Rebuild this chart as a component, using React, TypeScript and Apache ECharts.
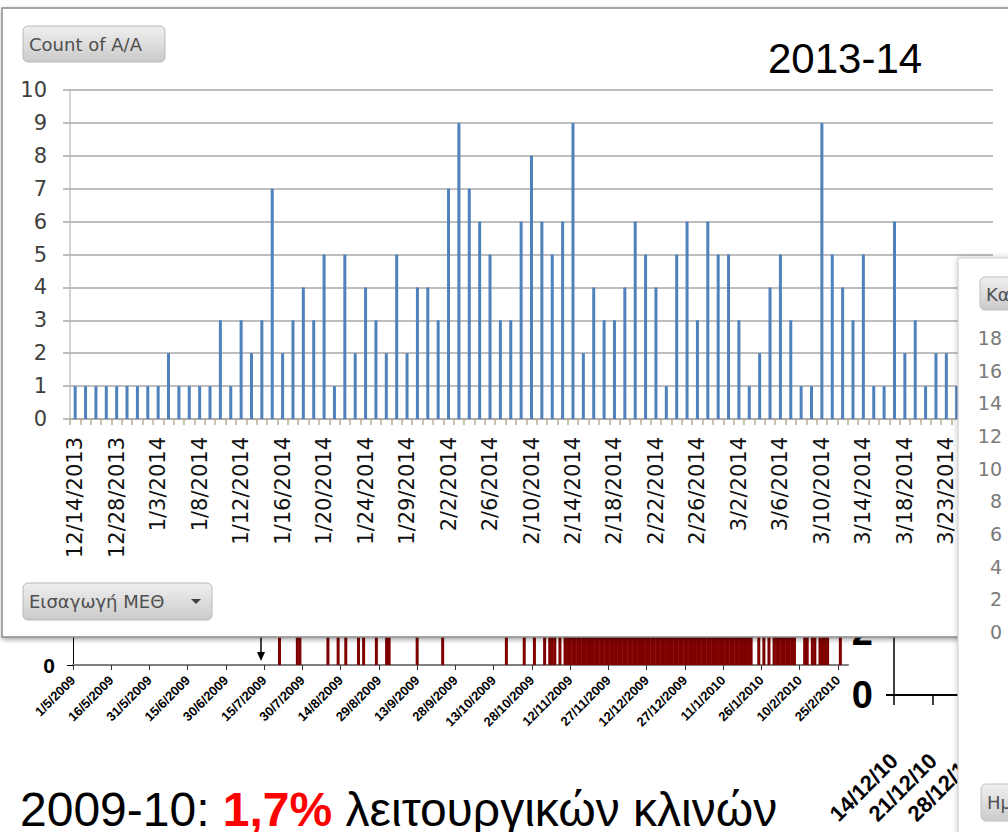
import React, { useEffect, useRef } from "react";
import * as echarts from "echarts";

// ---------- main chart (2013-14) ----------
const mainDates = [
  "12/14/2013", "12/18/2013", "12/21/2013", "12/25/2013", "12/28/2013", "12/30/2013", "12/31/2013", "1/2/2014",
  "1/3/2014", "1/4/2014", "1/5/2014", "1/7/2014", "1/8/2014", "1/9/2014", "1/10/2014", "1/11/2014",
  "1/12/2014", "1/13/2014", "1/14/2014", "1/15/2014", "1/16/2014", "1/17/2014", "1/18/2014", "1/19/2014",
  "1/20/2014", "1/21/2014", "1/22/2014", "1/23/2014", "1/24/2014", "1/25/2014", "1/26/2014", "1/28/2014",
  "1/29/2014", "1/30/2014", "1/31/2014", "2/1/2014", "2/2/2014", "2/3/2014", "2/4/2014", "2/5/2014",
  "2/6/2014", "2/7/2014", "2/8/2014", "2/9/2014", "2/10/2014", "2/11/2014", "2/12/2014", "2/13/2014",
  "2/14/2014", "2/15/2014", "2/16/2014", "2/17/2014", "2/18/2014", "2/19/2014", "2/20/2014", "2/21/2014",
  "2/22/2014", "2/23/2014", "2/24/2014", "2/25/2014", "2/26/2014", "2/27/2014", "2/28/2014", "3/1/2014",
  "3/2/2014", "3/3/2014", "3/4/2014", "3/5/2014", "3/6/2014", "3/7/2014", "3/8/2014", "3/9/2014",
  "3/10/2014", "3/11/2014", "3/12/2014", "3/13/2014", "3/14/2014", "3/15/2014", "3/16/2014", "3/17/2014",
  "3/18/2014", "3/19/2014", "3/20/2014", "3/22/2014", "3/23/2014", "3/24/2014", "3/25/2014", "3/26/2014",
  "3/27/2014",
];
const mainCounts = [
  1, 1, 1, 1, 1, 1, 1, 1, 1, 2,
  1, 1, 1, 1, 3, 1, 3, 2, 3, 7,
  2, 3, 4, 3, 5, 1, 5, 2, 4, 3,
  2, 5, 2, 4, 4, 3, 7, 9, 7, 6,
  5, 3, 3, 6, 8, 6, 5, 6, 9, 2,
  4, 3, 3, 4, 6, 5, 4, 1, 5, 6,
  3, 6, 5, 5, 3, 1, 2, 4, 5, 3,
  1, 1, 9, 5, 4, 3, 5, 1, 1, 6,
  2, 3, 1, 2, 2, 1, 1, 2, 1,
];

// ---------- background chart (2009-10), daily values per month ----------
const icuMay2009 = [0, 0, 0, 0, 0, 0, 0, 0, 0, 0, 0, 0, 0, 0, 0, 0, 0, 0, 0, 0, 0, 0, 0, 0, 0, 0, 0, 0, 0, 0, 0];
const icuJun2009 = [0, 0, 0, 0, 0, 0, 0, 0, 0, 0, 0, 0, 0, 0, 0, 0, 0, 0, 0, 0, 0, 0, 0, 0, 0, 0, 0, 0, 0, 0];
const icuJul2009 = [0, 0, 0, 0, 0, 0, 0, 0, 0, 0, 0, 0, 0, 0, 0, 0, 0, 0, 0, 0, 1, 0, 0, 0, 0, 0, 0, 1, 1, 0, 0];
const icuAug2009 = [0, 0, 0, 0, 0, 0, 0, 0, 1, 0, 0, 0, 1, 0, 0, 1, 0, 0, 0, 0, 1, 0, 1, 0, 0, 0, 0, 1, 0, 0, 0];
const icuSep2009 = [1, 1, 0, 0, 0, 0, 0, 0, 0, 0, 0, 0, 1, 0, 0, 0, 0, 0, 0, 0, 0, 0, 1, 0, 0, 0, 0, 0, 0, 0];
const icuOct2009 = [0, 0, 0, 0, 0, 0, 0, 0, 0, 0, 0, 0, 0, 0, 0, 0, 0, 1, 0, 0, 0, 0, 0, 0, 1, 0, 0, 0, 1, 0, 0];
const icuNov2009 = [0, 1, 0, 1, 1, 1, 0, 1, 0, 2, 2, 3, 2, 3, 3, 4, 3, 4, 4, 5, 4, 5, 5, 6, 5, 6, 6, 5, 6, 7];
const icuDec2009 = [7, 6, 7, 6, 6, 5, 6, 5, 5, 4, 5, 4, 4, 4, 3, 4, 3, 3, 3, 2, 3, 2, 3, 2, 2, 3, 2, 2, 2, 1, 2];
const icuJan2010 = [2, 1, 2, 2, 1, 2, 1, 1, 2, 1, 1, 2, 1, 1, 1, 2, 1, 1, 1, 1, 1, 1, 0, 0, 1, 0, 1, 0, 1, 0, 1];
const icuFeb2010 = [1, 1, 2, 1, 1, 1, 1, 1, 0, 0, 0, 1, 1, 0, 1, 1, 0, 1, 1, 1, 1, 0, 0, 0, 0, 1, 0, 0];
const icuMar2010 = [0];

const icuMonths: [number, number, number[]][] = [
  [5, 2009, icuMay2009], [6, 2009, icuJun2009], [7, 2009, icuJul2009], [8, 2009, icuAug2009],
  [9, 2009, icuSep2009], [10, 2009, icuOct2009], [11, 2009, icuNov2009], [12, 2009, icuDec2009],
  [1, 2010, icuJan2010], [2, 2010, icuFeb2010], [3, 2010, icuMar2010],
];
const icuDates: string[] = [];
const icuValues: number[] = [];
icuMonths.forEach(([m, y, arr]) => {
  arr.forEach((v, i) => {
    icuDates.push(`${i + 1}/${m}/${y}`);
    icuValues.push(v);
  });
});

// ---------- fragment of another chart ----------
const midDates = ["14/12/10", "21/12/10", "28/12/10"];

const SANS = "'DejaVu Sans', Verdana, sans-serif";
const ARIAL = "'Liberation Sans', Arial, sans-serif";
const NARROW = "'Liberation Sans Narrow', 'Arial Narrow', 'Liberation Sans', sans-serif";

function btnFill() {
  return new echarts.graphic.LinearGradient(0, 0, 0, 1, [
    { offset: 0, color: "#efefef" },
    { offset: 1, color: "#cbcbcb" },
  ]);
}

export default function App() {
  const ref = useRef<HTMLDivElement>(null);
  useEffect(() => {
    if (!ref.current) return;
    const chart = echarts.init(ref.current, null, { renderer: "svg" });
    const option: any = {
      animation: false,
      backgroundColor: "#ffffff",
      grid: [
        { left: 70, right: 15, top: 90, bottom: 413, outerBoundsMode: "none", containLabel: false },
        { left: 73, right: 160, top: 401, bottom: 167, outerBoundsMode: "none", containLabel: false },
        { left: 894, right: 36, top: 380, bottom: 137, outerBoundsMode: "none", containLabel: false },
        { left: 1003, right: 0, top: 338, bottom: 200, outerBoundsMode: "none", containLabel: false },
      ],
      xAxis: [
        {
          gridIndex: 0, type: "category", data: mainDates, boundaryGap: true, z: 11,
          axisLine: { show: true, lineStyle: { color: "#a9a9a9", width: 1.5 } },
          axisTick: { show: true, interval: 0, length: 6, lineStyle: { color: "#b9ab93", width: 1.5 } },
          axisLabel: { interval: 3, rotate: 90, margin: 18, fontSize: 21, fontFamily: SANS, color: "#111111" },
          splitLine: { show: false },
        },
        {
          gridIndex: 1, type: "category", data: icuDates, boundaryGap: false, z: 1,
          axisLine: { show: true, lineStyle: { color: "#808080", width: 2 } },
          axisTick: { show: true, interval: 14, length: 5, lineStyle: { color: "#333333", width: 1 } },
          axisLabel: { interval: 14, rotate: 45, margin: 13, fontSize: 13, fontWeight: "bold", fontFamily: ARIAL, color: "#000" },
          splitLine: { show: false },
        },
        {
          gridIndex: 2, type: "category", data: midDates, boundaryGap: false, z: 1,
          axisLine: { show: true, lineStyle: { color: "#000", width: 2 } },
          axisTick: { show: true, interval: 0, length: 10, lineStyle: { color: "#000", width: 1.5 } },
          axisLabel: { interval: 0, rotate: 45, margin: 62, fontSize: 22, fontWeight: "bold", fontFamily: NARROW, color: "#000" },
          splitLine: { show: false },
        },
        { gridIndex: 3, type: "category", data: [""], show: false },
      ],
      yAxis: [
        {
          gridIndex: 0, type: "value", min: 0, max: 10, interval: 1, z: 11,
          axisLine: { show: true, lineStyle: { color: "#c4c4c4", width: 1.5 } },
          axisTick: { show: true, length: 7, lineStyle: { color: "#a9a9a9", width: 1.5 } },
          axisLabel: { margin: 23, fontSize: 21, fontFamily: SANS, color: "#404040" },
          splitLine: { show: true, lineStyle: { color: "#a9a9a9", width: 1.5 } },
        },
        {
          gridIndex: 1, type: "value", min: 0, max: 8, interval: 2, z: 1,
          axisLine: { show: true, lineStyle: { color: "#000", width: 1 } },
          axisTick: { show: true, length: 6, lineStyle: { color: "#000", width: 1 } },
          // only the 0 label is not hidden under the front panel
          axisLabel: {
            margin: 18, fontSize: 21, fontWeight: "bold", fontFamily: ARIAL, color: "#000",
            formatter: (v: number) => (v === 0 ? "0" : ""),
          },
          splitLine: { show: false },
        },
        {
          gridIndex: 2, type: "value", min: 0, max: 10, interval: 2, z: 1,
          axisLine: { show: true, lineStyle: { color: "#000", width: 1.5 } },
          axisTick: { show: true, length: 8, lineStyle: { color: "#000", width: 2 } },
          axisLabel: {
            margin: 21, fontSize: 38, fontWeight: "bold", fontFamily: NARROW, color: "#000",
            formatter: (v: number) => (v <= 2 ? String(v) : ""),
          },
          splitLine: { show: false },
        },
        {
          gridIndex: 3, type: "value", min: 0, max: 18, interval: 2, z: 21,
          axisLine: { show: false }, axisTick: { show: false },
          axisLabel: { margin: 1, fontSize: 19, fontFamily: SANS, color: "#7a7a7a" },
          splitLine: { show: false },
        },
      ],
      series: [
        {
          type: "bar", xAxisIndex: 0, yAxisIndex: 0, data: mainCounts, barWidth: 3, z: 12,
          itemStyle: { color: "#4f81bd" },
        },
        {
          type: "bar", xAxisIndex: 1, yAxisIndex: 1, data: icuValues, barWidth: 3, z: 2,
          itemStyle: { color: "#800000" },
        },
      ],
      graphic: [
        {
          type: "text", x: 20, y: 809, z: 1,
          style: {
            text: "{a|2009-10: }{b|1,7%}{a| λειτουργικών κλινών}",
            verticalAlign: "middle", align: "left",
            rich: {
              a: { fontSize: 48, fontFamily: ARIAL, fill: "#000" },
              b: { fontSize: 48, fontFamily: ARIAL, fontWeight: "bold", fill: "#ff0000" },
            },
          },
        },
        { type: "line", z: 3, shape: { x1: 261, y1: 615, x2: 261, y2: 655 }, style: { stroke: "#000", lineWidth: 1.5 } },
        { type: "polygon", z: 3, shape: { points: [[257, 652], [265, 652], [261, 661]] }, style: { fill: "#000" } },
        // main panel
        {
          type: "rect", z: 10, shape: { x: 2, y: 8, width: 1030, height: 629 },
          style: { fill: "#ffffff", stroke: "#8a8a8a", lineWidth: 1.5, shadowBlur: 5, shadowColor: "rgba(0,0,0,0.35)", shadowOffsetX: 1, shadowOffsetY: 2 },
        },
        {
          type: "text", x: 768, y: 58, z: 13,
          style: { text: "2013-14", fontSize: 42, fontFamily: ARIAL, fill: "#000", align: "left", verticalAlign: "middle" },
        },
        {
          type: "rect", z: 13, shape: { x: 23, y: 26, width: 142, height: 36, r: 5 },
          style: { fill: btnFill(), stroke: "#b8b8b8", lineWidth: 1 },
        },
        {
          type: "text", x: 29, y: 44, z: 14,
          style: { text: "Count of A/A", fontSize: 18, fontFamily: SANS, fill: "#505050", align: "left", verticalAlign: "middle" },
        },
        {
          type: "rect", z: 13, shape: { x: 23, y: 583, width: 189, height: 37, r: 5 },
          style: { fill: btnFill(), stroke: "#b8b8b8", lineWidth: 1 },
        },
        {
          type: "text", x: 29, y: 601, z: 14,
          style: { text: "Εισαγωγή ΜΕΘ", fontSize: 18, fontFamily: SANS, fill: "#505050", align: "left", verticalAlign: "middle" },
        },
        { type: "polygon", z: 14, shape: { points: [[191, 599], [201, 599], [196, 604]] }, style: { fill: "#404040" } },
        // right panel
        {
          type: "rect", z: 20, shape: { x: 958, y: 258, width: 80, height: 600 },
          style: { fill: "#ffffff", stroke: "#cfcfcf", lineWidth: 1.2, shadowBlur: 6, shadowColor: "rgba(0,0,0,0.2)" },
        },
        {
          type: "rect", z: 21, shape: { x: 980, y: 277, width: 60, height: 33, r: 5 },
          style: { fill: btnFill(), stroke: "#c0c0c0", lineWidth: 1 },
        },
        {
          type: "text", x: 986, y: 294, z: 22,
          style: { text: "Κα", fontSize: 18, fontFamily: SANS, fill: "#505050", align: "left", verticalAlign: "middle" },
        },
        {
          type: "rect", z: 21, shape: { x: 981, y: 784, width: 60, height: 37, r: 5 },
          style: { fill: btnFill(), stroke: "#c0c0c0", lineWidth: 1 },
        },
        {
          type: "text", x: 987, y: 802, z: 22,
          style: { text: "Ημ", fontSize: 18, fontFamily: SANS, fill: "#505050", align: "left", verticalAlign: "middle" },
        },
      ],
    };
    chart.setOption(option);
    return () => chart.dispose();
  }, []);
  return (
    <div
      ref={ref}
      style={{ position: "absolute", left: 0, top: 0, width: 1008, height: 832, background: "#fff" }}
    />
  );
}
